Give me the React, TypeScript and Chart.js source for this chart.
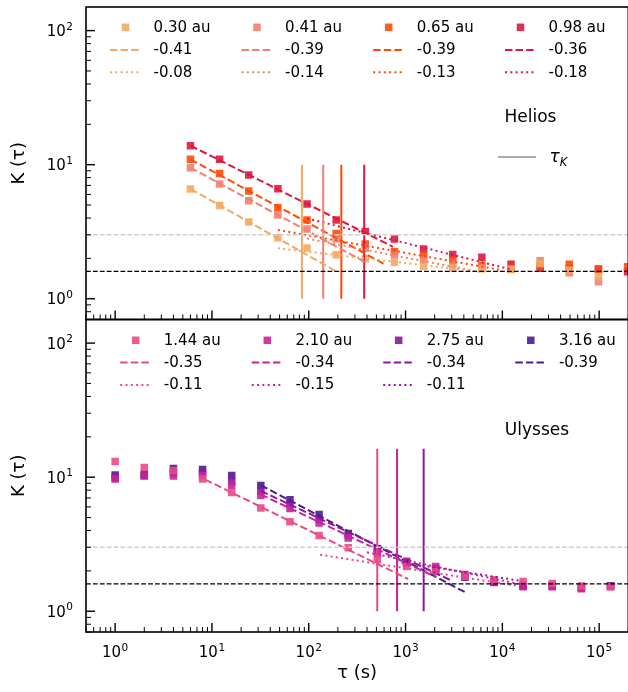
import { useEffect, useRef } from 'react';
import { Chart, registerables } from 'chart.js';

Chart.register(...registerables);

// ---------------- data ----------------
const X_MIN = 0.5;
const X_MAX = 2e5;
const Y_MIN = 0.7;
const Y_MAX = 150;
const K_GAUSS = 3;
const K_FLOOR = 1.6;

// Helios (top panel)
const heliosTau = [6, 12, 24, 48, 96, 192, 384, 768, 1536, 3072, 6144, 12288, 24576, 49152, 98304, 196608];
const helios030 = [6.58, 4.97, 3.73, 2.85, 2.39, 2.13, 1.99, 1.86, 1.75, 1.70, 1.67, 1.65, 1.83, 1.64, 1.45];
const helios041 = [9.49, 7.17, 5.39, 4.21, 3.31, 2.80, 2.38, 2.12, 1.94, 1.81, 1.72, 1.66, 1.92, 1.56, 1.34];
const helios065 = [10.96, 8.61, 6.36, 4.78, 3.86, 3.07, 2.56, 2.24, 2.12, 1.94, 1.78, 1.68, 1.75, 1.81, 1.65, 1.73];
const helios098 = [13.85, 10.96, 8.37, 6.62, 5.09, 3.86, 3.18, 2.79, 2.35, 2.14, 2.04, 1.81, 1.69, 1.69, 1.67, 1.59];
const heliosLabels = ['0.30 au', '0.41 au', '0.65 au', '0.98 au'];
const heliosColors = ['#f4a961', '#f2806f', '#ff4a06', '#dc183f'];
const heliosDashLabels = ['-0.41', '-0.39', '-0.39', '-0.36'];
const heliosDotLabels = ['-0.08', '-0.14', '-0.13', '-0.18'];
const heliosDashTau = [[6, 195], [6, 380], [6, 600], [6, 742]];
const heliosDashK = [[6.6, 1.59], [9.5, 1.88], [10.96, 1.82], [13.85, 2.44]];
const heliosDotTau = [[48, 5900], [96, 5000], [48, 10000], [96, 12000]];
const heliosDotK = [[2.38, 1.59], [2.81, 1.62], [3.26, 1.63], [3.97, 1.66]];
const heliosTauK = [85, 141, 217, 374];
const heliosTauKRange = [1, 10];

// Ulysses (bottom panel)
const ulyssesTau = [1, 2, 4, 8, 16, 32, 64, 128, 256, 512, 1024, 2048, 4096, 8192, 16384, 32768, 65536, 131072];
const ulysses144 = [13.1, 11.8, 11.2, 9.7, 7.7, 5.9, 4.66, 3.67, 2.97, 2.43, 2.16, 1.97, 1.82, 1.72, 1.67, 1.61, 1.54, 1.53];
const ulysses210 = [9.7, 10.2, 10.2, 10.3, 8.7, 7.3, 5.85, 4.55, 3.52, 2.72, 2.36, 2.16, 1.88, 1.66, 1.52, 1.52, 1.47, 1.52];
const ulysses275 = [9.9, 10.3, 10.8, 10.8, 9.3, 7.9, 6.3, 4.83, 3.66, 2.92, 2.33, 2.08, 1.80, 1.64, 1.55, 1.55, 1.50, 1.54];
const ulysses316 = [10.4, 10.5, 11.6, 11.4, 10.3, 8.66, 6.8, 5.26, 3.80, 2.92, 2.29, 2.05, 1.80, 1.66, 1.55, 1.55, 1.50, 1.55];
const ulyssesLabels = ['1.44 au', '2.10 au', '2.75 au', '3.16 au'];
const ulyssesColors = ['#e84a86', '#c8249a', '#8c179e', '#4a1c8f'];
const ulyssesDashLabels = ['-0.35', '-0.34', '-0.34', '-0.39'];
const ulyssesDotLabels = ['-0.11', '-0.15', '-0.11'];
const ulyssesDashTau = [[8.5, 1060], [32, 2048], [32, 3000], [32, 4096]];
const ulyssesDashK = [[9.6, 1.74], [7.42, 1.80], [7.9, 1.69], [8.7, 1.39]];
const ulyssesDotTau = [[131, 14000], [400, 16000], [800, 16000]];
const ulyssesDotK = [[2.64, 1.55], [2.75, 1.58], [2.35, 1.68]];
const ulyssesTauK = [510, 817, 1538];
const ulyssesTauKRange = [1, 16.3];

// ---------------- layout ----------------
const CW = 640;
const CH = 692;
const LEFT = 86;
const RIGHT = 628.3;
const TOP1 = 7;
const MID = 319.5;
const BOT2 = 632;
const FONT = '"DejaVu Sans", Verdana, sans-serif';
const DASH = [7.4, 3.2];
const DOT = [2, 3.3];
const HDASH = [4.8, 2.1];

function hexA(hex: string, a: number) {
  const n = parseInt(hex.slice(1), 16);
  return `rgba(${(n >> 16) & 255},${(n >> 8) & 255},${n & 255},${a})`;
}

function lineDs(xs: number[], ys: number[], color: string, width: number, dash: number[]) {
  return {
    type: 'scatter' as const,
    data: xs.map((x, i) => ({ x, y: ys[i] })),
    showLine: true,
    borderColor: color,
    borderWidth: width,
    borderDash: dash,
    borderCapStyle: 'butt' as const,
    pointRadius: 0,
    fill: false,
    order: 0,
    clip: 0,
  };
}

function markerDs(tau: number[], vals: number[], color: string) {
  return {
    type: 'scatter' as const,
    data: vals.map((v, i) => ({ x: tau[i], y: v })),
    showLine: false,
    pointStyle: 'rect' as const,
    pointRadius: 5.3,
    pointBackgroundColor: hexA(color, 0.9),
    pointBorderWidth: 0,
    pointBorderColor: 'rgba(0,0,0,0)',
    order: 1,
    clip: 0,
  };
}

function drawPow10(ctx: CanvasRenderingContext2D, exp: number, x: number, yBase: number, align: 'right' | 'center') {
  ctx.font = `15px ${FONT}`;
  const w1 = ctx.measureText('10').width;
  const es = String(exp);
  ctx.font = `10.5px ${FONT}`;
  const w2 = ctx.measureText(es).width;
  const total = w1 + w2 + 0.5;
  const left = align === 'right' ? x - total : x - total / 2;
  ctx.textAlign = 'left';
  ctx.textBaseline = 'alphabetic';
  ctx.fillStyle = '#000';
  ctx.font = `15px ${FONT}`;
  ctx.fillText('10', left, yBase);
  ctx.font = `10.5px ${FONT}`;
  ctx.fillText(es, left + w1 + 0.5, yBase - 6.5);
}

type LegendItem = { kind: 'marker' | 'dash' | 'dot'; color: string; text: string } | null;

function drawLegend(ctx: CanvasRenderingContext2D, cols: LegendItem[][], colX: number[], rowY: number[]) {
  cols.forEach((col, ci) => {
    col.forEach((item, ri) => {
      if (!item) return;
      const x0 = colX[ci];
      const y = rowY[ri];
      ctx.save();
      if (item.kind === 'marker') {
        ctx.fillStyle = hexA(item.color, 0.9);
        ctx.fillRect(x0 + 15.5 - 3.75, y - 3.75, 7.5, 7.5);
      } else {
        ctx.strokeStyle = item.color;
        ctx.lineWidth = 2;
        ctx.lineCap = 'butt';
        ctx.setLineDash(item.kind === 'dash' ? DASH : DOT);
        ctx.beginPath();
        ctx.moveTo(x0, y);
        ctx.lineTo(x0 + 31, y);
        ctx.stroke();
      }
      ctx.restore();
      ctx.fillStyle = '#000';
      ctx.font = `15px ${FONT}`;
      ctx.textAlign = 'left';
      ctx.textBaseline = 'middle';
      ctx.fillText(item.text, x0 + 43.6, y + 0.5);
    });
  });
}

function makePlugin(panel: 'top' | 'bottom') {
  return {
    id: 'panelDecor' + panel,
    afterDraw(chart: any) {
      const ctx: CanvasRenderingContext2D = chart.ctx;
      const a = chart.chartArea;
      const xs = chart.scales.x;
      const ys = chart.scales.y;
      ctx.save();
      // frame
      ctx.strokeStyle = '#000';
      ctx.lineWidth = 1.6;
      ctx.setLineDash([]);
      ctx.strokeRect(a.left, a.top, a.right - a.left, a.bottom - a.top);
      // y ticks (inward) and labels
      for (let e = -1; e <= 3; e++) {
        for (let m = 1; m <= 9; m++) {
          const v = m * Math.pow(10, e);
          if (v < Y_MIN || v > Y_MAX) continue;
          const py = ys.getPixelForValue(v);
          const len = m === 1 ? 9 : 5;
          ctx.lineWidth = m === 1 ? 1.4 : 1;
          ctx.beginPath();
          ctx.moveTo(a.left, py);
          ctx.lineTo(a.left + len, py);
          ctx.stroke();
          if (m === 1) drawPow10(ctx, e, a.left - 13, py + 5.5, 'right');
        }
      }
      // x ticks (inward from bottom)
      for (let e = -1; e <= 5; e++) {
        for (let m = 1; m <= 9; m++) {
          const v = m * Math.pow(10, e);
          if (v < X_MIN || v > X_MAX) continue;
          const px = xs.getPixelForValue(v);
          const len = m === 1 ? 9 : 5;
          ctx.lineWidth = m === 1 ? 1.4 : 1;
          ctx.strokeStyle = '#000';
          ctx.beginPath();
          ctx.moveTo(px, a.bottom);
          ctx.lineTo(px, a.bottom - len);
          ctx.stroke();
          if (m === 1 && panel === 'bottom') drawPow10(ctx, e, px, 657, 'center');
        }
      }
      // y-axis title
      ctx.save();
      ctx.translate(19, (a.top + a.bottom) / 2);
      ctx.rotate(-Math.PI / 2);
      ctx.font = `18px ${FONT}`;
      ctx.fillStyle = '#000';
      ctx.textAlign = 'center';
      ctx.textBaseline = 'middle';
      ctx.fillText('K (τ)', 0, 0);
      ctx.restore();

      if (panel === 'top') {
        const cols: LegendItem[][] = heliosLabels.map((lab, i) => [
          { kind: 'marker', color: heliosColors[i], text: lab },
          { kind: 'dash', color: heliosColors[i], text: heliosDashLabels[i] },
          { kind: 'dot', color: heliosColors[i], text: heliosDotLabels[i] },
        ]);
        drawLegend(ctx, cols, [110, 241.5, 373.2, 505], [27.3, 50, 72.3]);
        // Helios label + tau_K legend
        ctx.fillStyle = '#000';
        ctx.font = `17px ${FONT}`;
        ctx.textAlign = 'center';
        ctx.textBaseline = 'middle';
        ctx.fillText('Helios', 530.5, 118);
        ctx.strokeStyle = '#ababab';
        ctx.lineWidth = 2;
        ctx.setLineDash([]);
        ctx.beginPath();
        ctx.moveTo(498, 157);
        ctx.lineTo(536, 157);
        ctx.stroke();
        ctx.textAlign = 'left';
        ctx.textBaseline = 'alphabetic';
        ctx.font = `italic 17px ${FONT}`;
        ctx.fillText('τ', 549.5, 162);
        const tw = ctx.measureText('τ').width;
        ctx.font = `italic 11.5px ${FONT}`;
        ctx.fillText('K', 549.5 + tw, 166);
      } else {
        const cols: LegendItem[][] = ulyssesLabels.map((lab, i) => [
          { kind: 'marker', color: ulyssesColors[i], text: lab },
          { kind: 'dash', color: ulyssesColors[i], text: ulyssesDashLabels[i] },
          i < ulyssesDotLabels.length ? { kind: 'dot', color: ulyssesColors[i], text: ulyssesDotLabels[i] } : null,
        ]);
        drawLegend(ctx, cols, [120.2, 251.8, 383.2, 515.3], [340.3, 362.6, 385]);
        ctx.fillStyle = '#000';
        ctx.font = `17px ${FONT}`;
        ctx.textAlign = 'center';
        ctx.textBaseline = 'middle';
        ctx.fillText('Ulysses', 537, 431);
        // x-axis title
        ctx.font = `18px ${FONT}`;
        ctx.fillText('τ (s)', (a.left + a.right) / 2, 673);
      }
      ctx.restore();
    },
  };
}

function makeConfig(panel: 'top' | 'bottom'): any {
  const isTop = panel === 'top';
  const tau = isTop ? heliosTau : ulyssesTau;
  const values = isTop ? [helios030, helios041, helios065, helios098] : [ulysses144, ulysses210, ulysses275, ulysses316];
  const colors = isTop ? heliosColors : ulyssesColors;
  const dashTau = isTop ? heliosDashTau : ulyssesDashTau;
  const dashK = isTop ? heliosDashK : ulyssesDashK;
  const dotTau = isTop ? heliosDotTau : ulyssesDotTau;
  const dotK = isTop ? heliosDotK : ulyssesDotK;
  const tauK = isTop ? heliosTauK : ulyssesTauK;
  const tauKRange = isTop ? heliosTauKRange : ulyssesTauKRange;

  const datasets: any[] = [];
  datasets.push(lineDs([X_MIN, X_MAX], [K_FLOOR, K_FLOOR], '#000000', 1.3, HDASH));
  datasets.push(lineDs([X_MIN, X_MAX], [K_GAUSS, K_GAUSS], '#cfcfcf', 1.3, HDASH));
  colors.forEach((c, i) => {
    datasets.push(lineDs(dashTau[i], dashK[i], c, 2, DASH));
    if (dotTau[i]) datasets.push(lineDs(dotTau[i], dotK[i], c, 2, DOT));
    if (tauK[i] !== undefined) datasets.push(lineDs([tauK[i], tauK[i]], tauKRange, c, 2, []));
  });
  colors.forEach((c, i) => datasets.push(markerDs(tau, values[i], c)));

  return {
    type: 'scatter',
    data: { datasets },
    options: {
      responsive: false,
      animation: false,
      devicePixelRatio: 1,
      events: [],
      layout: {
        padding: isTop
          ? { left: LEFT, right: CW - RIGHT, top: TOP1, bottom: CH - MID }
          : { left: LEFT, right: CW - RIGHT, top: MID, bottom: CH - BOT2 },
      },
      scales: {
        x: { type: 'logarithmic', min: X_MIN, max: X_MAX, display: false },
        y: { type: 'logarithmic', min: Y_MIN, max: Y_MAX, display: false },
      },
      plugins: { legend: { display: false }, tooltip: { enabled: false }, title: { display: false } },
    },
    plugins: [makePlugin(panel)],
  };
}

export default function App() {
  const topRef = useRef<HTMLCanvasElement>(null);
  const botRef = useRef<HTMLCanvasElement>(null);
  useEffect(() => {
    const c1 = new Chart(topRef.current as HTMLCanvasElement, makeConfig('top'));
    const c2 = new Chart(botRef.current as HTMLCanvasElement, makeConfig('bottom'));
    return () => {
      c1.destroy();
      c2.destroy();
    };
  }, []);
  const cs: any = { position: 'absolute', left: 0, top: 0, width: CW, height: CH };
  return (
    <div style={{ position: 'fixed', left: 0, top: 0, width: 628, height: 692, overflow: 'hidden', background: '#fff' }}>
      <canvas ref={topRef} width={CW} height={CH} style={cs} />
      <canvas ref={botRef} width={CW} height={CH} style={cs} />
    </div>
  );
}
